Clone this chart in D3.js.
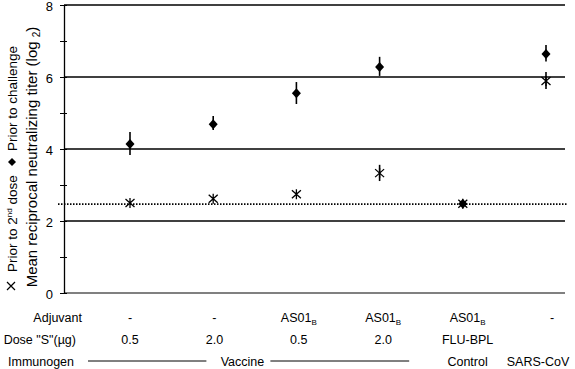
<!DOCTYPE html>
<html lang="en">
  <head>
    <meta charset='utf-8'>
    <script src='https://d3js.org/d3.v7.min.js'></script>
    <title>Neutralizing titer chart</title>
    <style>
      body { margin: 0px; background: #fff; }
      text { font-family: 'Liberation Sans', Arial, sans-serif; fill: #000; }
      .tick-label { font-size: 13px; }
      .axis-label { font-size: 15px; }
      .legend-label { font-size: 13.5px; }
      .table-text { font-size: 12.5px; }
    </style>
  </head>
  <body>
    <div id='viz'></div>
    <script>
      // groups along x
      const groups = ['g1', 'g2', 'g3', 'g4', 'g5', 'g6'];
      const adjuvant = ['-', '-', 'AS01B', 'AS01B', 'AS01B', '-'];
      const dose = ['0.5', '2.0', '0.5', '2.0', 'FLU-BPL', ''];

      // prior to challenge (diamonds) with error bars
      const challenge = [4.14, 4.69, 5.55, 6.28, 2.48, 6.64];
      const challengeLo = [3.83, 4.53, 5.25, 6.03, null, 6.43];
      const challengeHi = [4.47, 4.92, 5.86, 6.56, null, 6.89];

      // prior to 2nd dose (stars)
      const secondDose = [2.5, 2.62, 2.74, 3.33, 2.48, 5.89];
      const secondLo = [null, null, null, 3.11, null, 5.67];
      const secondHi = [null, null, null, 3.56, null, 6.14];

      const yTicks = [0, 2, 4, 6, 8];
      const minorTicks = [0, 1, 2, 3, 4, 5, 6, 7, 8];
      const cutoff = 2.47;

      const width = 575, height = 369;
      const plot = { left: 64, right: 565, top: 5, bottom: 293 };

      const svg = d3.select('#viz').append('svg')
        .attr('width', width)
        .attr('height', height);

      const yScale = d3.scaleLinear().domain([0, 8]).range([plot.bottom, plot.top]);
      const xScale = d3.scalePoint().domain(groups).range([130, 546]);
      const tableX = d3.scalePoint().domain(groups).range([130, 552]);

      // gridlines
      svg.selectAll('.grid').data(yTicks.filter(d => d > 0)).enter().append('line')
        .attr('class', 'grid')
        .attr('x1', plot.left).attr('x2', plot.right)
        .attr('y1', d => yScale(d)).attr('y2', d => yScale(d))
        .attr('stroke', '#000').attr('stroke-width', 1.3);

      // x axis line (grey)
      svg.append('line')
        .attr('x1', plot.left).attr('x2', plot.right)
        .attr('y1', yScale(0)).attr('y2', yScale(0))
        .attr('stroke', '#808080').attr('stroke-width', 2);

      // y axis
      const yAxis = d3.axisLeft(yScale).tickValues(minorTicks).tickSize(0).tickFormat('');
      const yAxisG = svg.append('g').attr('transform', `translate(${plot.left},0)`).call(yAxis);
      yAxisG.select('.domain').attr('stroke', '#000').attr('stroke-width', 1.3);
      yAxisG.selectAll('.tick line').attr('x1', -4).attr('x2', 3)
        .attr('stroke', '#000').attr('stroke-width', 1);

      svg.selectAll('.tick-label').data(yTicks).enter().append('text')
        .attr('class', 'tick-label')
        .attr('x', 53).attr('y', d => yScale(d) + 1)
        .attr('dy', '0.36em')
        .style('text-anchor', 'end')
        .text(d => d);

      // cutoff dotted line
      svg.append('line')
        .attr('x1', 58).attr('x2', 568)
        .attr('y1', yScale(cutoff)).attr('y2', yScale(cutoff))
        .attr('stroke', '#000').attr('stroke-width', 1.6)
        .attr('stroke-dasharray', '1.5,1.5');

      // error bars
      const drawErr = (lo, hi, cls) => {
        svg.selectAll('.' + cls).data(groups.filter((g, i) => lo[i] != null)).enter().append('line')
          .attr('class', cls)
          .attr('x1', g => xScale(g)).attr('x2', g => xScale(g))
          .attr('y1', g => yScale(lo[groups.indexOf(g)]))
          .attr('y2', g => yScale(hi[groups.indexOf(g)]))
          .attr('stroke', '#000').attr('stroke-width', 1.6);
      };
      drawErr(challengeLo, challengeHi, 'err-c');
      drawErr(secondLo, secondHi, 'err-s');

      const starPath = 'M-4.5,-4L4.5,4M-4.5,4L4.5,-4M0,-5L0,5';
      const diamondPath = 'M0,-5L4.5,0L0,5L-4.5,0Z';

      svg.selectAll('.star').data(groups).enter().append('path')
        .attr('class', 'star')
        .attr('transform', (g, i) => `translate(${xScale(g)},${yScale(secondDose[i])})`)
        .attr('d', starPath)
        .attr('stroke', '#000').attr('stroke-width', 1.3).attr('fill', 'none');

      svg.selectAll('.diamond').data(groups).enter().append('path')
        .attr('class', 'diamond')
        .attr('transform', (g, i) => `translate(${xScale(g)},${yScale(challenge[i])})`)
        .attr('d', diamondPath)
        .attr('fill', '#000');

      // y title
      const title = svg.append('text')
        .attr('class', 'axis-label')
        .attr('transform', 'translate(37,157) rotate(-90)')
        .style('text-anchor', 'middle');
      title.append('tspan').text('Mean reciprocal neutralizing titer (log ');
      title.append('tspan').attr('font-size', '10px').attr('dy', 3).text('2');
      title.append('tspan').attr('dy', -3).text(')');

      // legend (rotated)
      const leg = svg.append('g');
      leg.append('path').attr('d', 'M-4,-4L4,4M-4,4L4,-4M0,-1L0,1')
        .attr('transform', 'translate(11,286)')
        .attr('stroke', '#000').attr('stroke-width', 1.2).attr('fill', 'none');
      const l1 = leg.append('text').attr('class', 'legend-label')
        .attr('transform', 'translate(17,272) rotate(-90)');
      l1.append('tspan').text('Prior to 2');
      l1.append('tspan').attr('font-size', '8px').attr('dy', -5).text('nd');
      l1.append('tspan').attr('dy', 5).text(' dose');
      leg.append('path').attr('d', 'M-4,0L0,-4L4,0L0,4Z')
        .attr('transform', 'translate(12,162)').attr('fill', '#000');
      leg.append('text').attr('class', 'legend-label')
        .attr('transform', 'translate(17,151) rotate(-90)')
        .text('Prior to challenge');

      // table rows
      const rowY = { adj: 322, dose: 344, imm: 366 };
      svg.append('text').attr('class', 'table-text').attr('x', 82).attr('y', rowY.adj)
        .style('text-anchor', 'end').text('Adjuvant');
      svg.append('text').attr('class', 'table-text').attr('x', 76).attr('y', rowY.dose)
        .style('text-anchor', 'end').text('Dose "S"(\u00b5g)');
      svg.append('text').attr('class', 'table-text').attr('x', 8).attr('y', rowY.imm)
        .text('Immunogen');

      const adjText = svg.selectAll('.adj').data(groups).enter().append('text')
        .attr('class', 'table-text adj')
        .attr('x', g => tableX(g)).attr('y', rowY.adj)
        .style('text-anchor', 'middle');
      adjText.each(function (g, i) {
        const t = d3.select(this);
        const a = adjuvant[i];
        if (a.endsWith('B')) {
          t.append('tspan').text(a.slice(0, -1));
          t.append('tspan').attr('font-size', '8px').attr('dy', 3).text('B');
        } else {
          t.text(a);
        }
      });

      svg.selectAll('.dose').data(groups).enter().append('text')
        .attr('class', 'table-text dose')
        .attr('x', g => tableX(g)).attr('y', rowY.dose)
        .style('text-anchor', 'middle')
        .text((g, i) => dose[i]);

      // immunogen row
      const lineY = rowY.imm - 5;
      svg.append('line').attr('x1', 88).attr('x2', tableX('g2') - 8)
        .attr('y1', lineY).attr('y2', lineY).attr('stroke', '#000').attr('stroke-width', 1);
      svg.append('text').attr('class', 'table-text')
        .attr('x', tableX('g2') + 28).attr('y', rowY.imm)
        .style('text-anchor', 'middle').text('Vaccine');
      svg.append('line').attr('x1', tableX('g2') + 56).attr('x2', tableX('g4') + 26)
        .attr('y1', lineY).attr('y2', lineY).attr('stroke', '#000').attr('stroke-width', 1);
      svg.append('text').attr('class', 'table-text')
        .attr('x', tableX('g5')).attr('y', rowY.imm)
        .style('text-anchor', 'middle').text('Control');
      svg.append('text').attr('class', 'table-text')
        .attr('x', tableX('g6') - 14).attr('y', rowY.imm)
        .style('text-anchor', 'middle').text('SARS-CoV');
    </script>
  </body>
</html>
